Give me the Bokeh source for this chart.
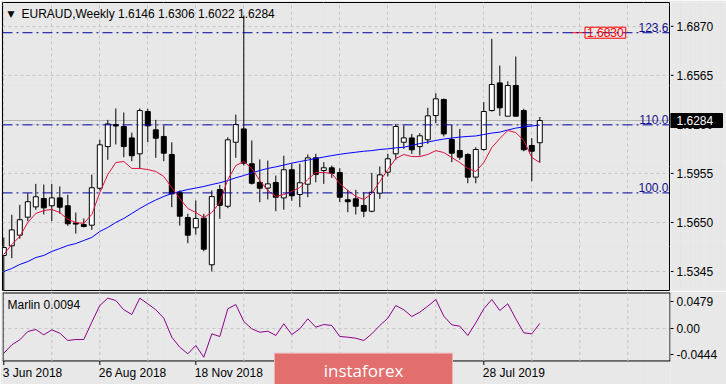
from bokeh.plotting import figure
from bokeh.models import (Range1d, FixedTicker, Grid, Span, Label, ColumnDataSource)
from bokeh.core.properties import value
from bokeh.layouts import column, row
from bokeh.embed import file_html
from bokeh.resources import INLINE

# ---------------- data ----------------
date_labels = ["3 Jun 2018", "26 Aug 2018", "18 Nov 2018", "10 Feb 2019", "5 May 2019", "28 Jul 2019"]
date_idx = [0, 12, 24, 36, 48, 60]
grid_idx = list(range(0, 84, 6))

opens = [1.5445, 1.5505, 1.5571, 1.5683, 1.5747, 1.5799, 1.5754, 1.5803, 1.5754, 1.5647,
         1.5637, 1.5633, 1.5863, 1.6122, 1.6259, 1.6247, 1.6176, 1.6077, 1.6340, 1.6226,
         1.6185, 1.6073, 1.5838, 1.5681, 1.5617, 1.5677, 1.5387, 1.5855, 1.5751, 1.6149,
         1.6232, 1.6015, 1.5899, 1.5864, 1.5899, 1.5803, 1.5978, 1.5824, 1.5888, 1.6052,
         1.5973, 1.5990, 1.5961, 1.5791, 1.5797, 1.5756, 1.5720, 1.5832, 1.5963, 1.6077,
         1.6149, 1.6176, 1.6122, 1.6164, 1.6315, 1.6415, 1.6166, 1.6097, 1.6073, 1.5932,
         1.6104, 1.6346, 1.6518, 1.6311, 1.6502, 1.6346, 1.6129, 1.6146]
highs = [1.5557, 1.5698, 1.5760, 1.5832, 1.5890, 1.5886, 1.5890, 1.5874, 1.5822, 1.5712,
         1.5675, 1.5948, 1.6164, 1.6288, 1.6359, 1.6334, 1.6209, 1.6359, 1.6357, 1.6288,
         1.6253, 1.6149, 1.5849, 1.5704, 1.5787, 1.5704, 1.5849, 1.5884, 1.6180, 1.6321,
         1.6937, 1.6160, 1.6042, 1.6035, 1.5942, 1.6065, 1.6015, 1.6015, 1.6073, 1.6077,
         1.6025, 1.6004, 1.5987, 1.5853, 1.5853, 1.5838, 1.5959, 1.5998, 1.6077, 1.6263,
         1.6253, 1.6201, 1.6205, 1.6363, 1.6454, 1.6421, 1.6257, 1.6232, 1.6081, 1.6118,
         1.6398, 1.6792, 1.6626, 1.6528, 1.6682, 1.6357, 1.6174, 1.6306]
lows = [1.5200, 1.5428, 1.5549, 1.5658, 1.5729, 1.5700, 1.5658, 1.5704, 1.5629, 1.5581,
        1.5619, 1.5604, 1.5849, 1.6040, 1.6135, 1.6056, 1.6031, 1.5984, 1.6149, 1.6052,
        1.6031, 1.5745, 1.5631, 1.5521, 1.5575, 1.5471, 1.5345, 1.5673, 1.5739, 1.6052,
        1.6004, 1.5886, 1.5776, 1.5793, 1.5720, 1.5729, 1.5785, 1.5745, 1.5807, 1.5900,
        1.5890, 1.5928, 1.5776, 1.5714, 1.5700, 1.5683, 1.5714, 1.5797, 1.5936, 1.6041,
        1.6108, 1.6077, 1.6066, 1.6139, 1.6267, 1.6185, 1.6025, 1.6040, 1.5894, 1.5894,
        1.6097, 1.6340, 1.6313, 1.6309, 1.6309, 1.6093, 1.5907, 1.6022]
closes = [1.5494, 1.5604, 1.5667, 1.5779, 1.5810, 1.5741, 1.5803, 1.5745, 1.5642, 1.5640,
          1.5625, 1.5866, 1.6133, 1.6263, 1.6250, 1.6122, 1.6065, 1.6346, 1.6251, 1.6174,
          1.6081, 1.5828, 1.5689, 1.5571, 1.5675, 1.5484, 1.5811, 1.5757, 1.6164, 1.6259,
          1.6019, 1.5894, 1.5863, 1.5890, 1.5807, 1.5978, 1.5816, 1.5897, 1.6052, 1.5948,
          1.5990, 1.5956, 1.5807, 1.5779, 1.5751, 1.5720, 1.5838, 1.5946, 1.6046, 1.6247,
          1.6176, 1.6102, 1.6189, 1.6313, 1.6419, 1.6201, 1.6081, 1.6056, 1.5932, 1.6104,
          1.6340, 1.6508, 1.6363, 1.6502, 1.6311, 1.6102, 1.6093, 1.6284]
ma_fast = [1.5451, 1.5513, 1.5563, 1.5650, 1.5706, 1.5724, 1.5731, 1.5712, 1.5669, 1.5650,
           1.5644, 1.5700, 1.5836, 1.5948, 1.6023, 1.6029, 1.5986, 1.5986, 1.5979, 1.5967,
           1.5936, 1.5867, 1.5799, 1.5737, 1.5712, 1.5681, 1.5712, 1.5774, 1.5917, 1.6004,
           1.6029, 1.5986, 1.5911, 1.5849, 1.5812, 1.5824, 1.5843, 1.5867, 1.5917, 1.5961,
           1.5961, 1.5955, 1.5892, 1.5849, 1.5812, 1.5793, 1.5830, 1.5905, 1.5979, 1.6048,
           1.6073, 1.6060, 1.6060, 1.6073, 1.6097, 1.6085, 1.6054, 1.6023, 1.5986, 1.5967,
           1.6023, 1.6116, 1.6172, 1.6222, 1.6209, 1.6160, 1.6054, 1.6023]
ma_slow = [1.5345, 1.5364, 1.5389, 1.5407, 1.5432, 1.5445, 1.5470, 1.5488, 1.5507, 1.5519,
           1.5538, 1.5557, 1.5594, 1.5619, 1.5650, 1.5675, 1.5706, 1.5737, 1.5765, 1.5790,
           1.5812, 1.5830, 1.5843, 1.5855, 1.5864, 1.5874, 1.5886, 1.5897, 1.5911, 1.5928,
           1.5942, 1.5958, 1.5973, 1.5986, 1.5996, 1.6007, 1.6019, 1.6029, 1.6038, 1.6048,
           1.6057, 1.6066, 1.6074, 1.6081, 1.6087, 1.6093, 1.6097, 1.6104, 1.6108, 1.6114,
           1.6118, 1.6129, 1.6141, 1.6150, 1.6160, 1.6169, 1.6175, 1.6181, 1.6185, 1.6188,
           1.6197, 1.6206, 1.6212, 1.6225, 1.6237, 1.6244, 1.6250, 1.6256]
marlin = [-0.0427, -0.0280, -0.0193, -0.0047, -0.0012, -0.0105, -0.0018, -0.0077, -0.0205, -0.0187,
          -0.0187, 0.0116, 0.0408, 0.0536, 0.0495, 0.0333, 0.0250, 0.0536, 0.0438, 0.0333,
          0.0186, -0.0147, -0.0322, -0.0438, -0.0292, -0.0497, -0.0088, -0.0135, 0.0350, 0.0425,
          0.0128, 0.0000, -0.0060, -0.0042, -0.0117, 0.0088, -0.0100, 0.0000, 0.0175, 0.0028,
          0.0075, 0.0058, -0.0135, -0.0147, -0.0165, -0.0205, -0.0088, 0.0058, 0.0186, 0.0408,
          0.0333, 0.0215, 0.0291, 0.0396, 0.0513, 0.0221, 0.0070, 0.0046, -0.0117, 0.0105,
          0.0350, 0.0513, 0.0320, 0.0438, 0.0175, -0.0070, -0.0088, 0.0094]

price_ticks = [1.5345, 1.5650, 1.5955, 1.6260, 1.6565, 1.6870]
price_tick_labels = ["1.5345", "1.5650", "1.5955", "1.6260", "1.6565", "1.6870"]
marlin_ticks = [-0.0444, 0.0, 0.0479]
marlin_tick_labels = ["-0.0444", "0.00", "0.0479"]
levels = [1.5834, 1.6257, 1.6830]
level_names = ["100.0", "110.0", "123.6"]
target = 1.6830
title_text = "EURAUD,Weekly  1.6146 1.6306 1.6022 1.6284"
marlin_text = "Marlin 0.0094"

# ---------------- styling ----------------
FONT = "Liberation Sans"
BG = "#e8e8e8"
GRID = "#c6c6c6"
PX = 8.0                       # pixels per weekly bar
X0, X1 = (2 - 3.3) / PX, (669 - 3.3) / PX
LOGO_L, LOGO_R = (274 - 3.3) / PX, (452 - 3.3) / PX
LOGO_FILL, LOGO_LINE = "#e26e6e", "#f0b0b0"
MPX = 0.00175                  # oscillator units per pixel
M_TOP, M_BOT = 0.0627, -0.0563  # oscillator panel border lines

n = len(closes)
idx = list(range(n))
src = ColumnDataSource(dict(
    x=idx, high=highs, low=lows,
    top=[max(o, c) for o, c in zip(opens, closes)],
    bottom=[min(o, c) for o, c in zip(opens, closes)],
    fill=["white" if c >= o else "black" for o, c in zip(opens, closes)],
))

xr = Range1d(X0, X1)
yr = Range1d(1.5227, 1.7018)

def base(**kw):
    return figure(toolbar_location=None, output_backend="svg",
                  background_fill_color=BG, border_fill_color=BG, **kw)

# ---------------- main price panel ----------------
p = base(width=670, height=291, x_range=xr, y_range=yr,
         x_axis_location=None, y_axis_location=None,
         min_border_left=2, min_border_right=1, min_border_top=2, min_border_bottom=1,
         outline_line_color="black", outline_line_width=1)

p.add_layout(Grid(dimension=1, ticker=FixedTicker(ticks=price_ticks),
                  grid_line_color=GRID, grid_line_dash="3 3"), "center")
p.add_layout(Grid(dimension=0, ticker=FixedTicker(ticks=grid_idx),
                  grid_line_color=GRID, grid_line_dash="3 3"), "center")

p.add_layout(Span(location=closes[-1], dimension="width", line_color="#b4b4b4",
                  line_width=1, level="underlay"))

p.segment(x0="x", y0="low", x1="x", y1="high", source=src, line_color="black", line_width=1)
p.vbar(x="x", top="top", bottom="bottom", width=0.62, fill_color="fill",
       line_color="black", line_width=1, source=src)

p.line(idx, ma_slow, line_color="#0000ff", line_width=1)
p.line(idx, ma_fast, line_color="#e0103c", line_width=1)

for lv, nm in zip(levels, level_names):
    p.add_layout(Span(location=lv, dimension="width", line_color="#0000a0",
                      line_dash="10 4 2 4", line_width=1))
    p.add_layout(Label(x=X1, y=lv, text=nm, text_align="right", text_baseline="bottom",
                       x_offset=-1, y_offset=1, text_font=FONT, text_font_size="12px",
                       text_color="#10108a"))

# target marker
p.segment(x0=[71.0], y0=[target], x1=[72.4], y1=[target], line_color="red", line_width=1)
p.add_layout(Label(x=72.4, y=target, x_offset=2, text=f"{target:.4f}", text_align="left",
                   text_baseline="middle", text_font=FONT, text_font_size="12px",
                   text_color="red", border_line_color="red", border_line_width=1,
                   padding=dict(left=2, right=2, top=1, bottom=1)))

# title
p.add_layout(Label(x=(7 - 3.3) / PX, y=1.6949, text="\u25BC", text_align="left",
                   text_baseline="middle", text_font="DejaVu Sans",
                   text_font_size="9px", text_color="black"))
p.add_layout(Label(x=(21 - 3.3) / PX, y=1.6949, text=title_text, text_align="left",
                   text_baseline="middle", text_font=FONT, text_font_size="12px",
                   text_color="black"))

# ---------------- right price scale (shares the price range) ----------------
a = base(width=56, height=291, x_range=Range1d(670, 726), y_range=yr,
         x_axis_location=None, y_axis_location=None,
         min_border_left=0, min_border_right=0, min_border_top=2, min_border_bottom=1,
         outline_line_color=None)
a.segment(x0=[670] * len(price_ticks), y0=price_ticks, x1=[673] * len(price_ticks),
          y1=price_ticks, line_color="black", line_width=1)
a.text(x=[676] * len(price_ticks), y=price_ticks, text=price_tick_labels,
       text_font=value(FONT), text_font_size="12px", text_color="black",
       text_align="left", text_baseline="middle")
a.rect(x=[696], y=[closes[-1]], width=52, height=14, height_units="screen",
       fill_color="black", line_color="black")
a.text(x=[676], y=[closes[-1]], text=[f"{closes[-1]:.4f}"], text_font=value(FONT),
       text_font_size="12px", text_color="white", text_align="left", text_baseline="middle")

# ---------------- Marlin oscillator panel + date scale ----------------
q = base(width=726, height=93, x_range=Range1d(X0, X1 + 1 / PX),
         y_range=Range1d(-0.0975, 0.0653),
         x_axis_location=None, y_axis_location="right",
         min_border_left=2, min_border_right=56, min_border_top=0, min_border_bottom=0,
         outline_line_color=None)

q.ygrid.ticker = FixedTicker(ticks=[0.0])
q.ygrid.grid_line_color = GRID
q.ygrid.grid_line_dash = "3 3"
q.segment(x0=grid_idx, y0=[M_BOT] * len(grid_idx), x1=grid_idx, y1=[M_TOP] * len(grid_idx),
          line_color=GRID, line_dash="3 3", line_width=1)

# panel border
q.add_layout(Span(location=M_TOP, dimension="width", line_color="black", level="underlay"))
q.add_layout(Span(location=M_BOT, dimension="width", line_color="black", level="underlay"))
q.segment(x0=[X0 + 0.5 / PX, X1 + 0.5 / PX], y0=[M_BOT, M_BOT],
          x1=[X0 + 0.5 / PX, X1 + 0.5 / PX], y1=[M_TOP, M_TOP], line_color="black")

q.line(idx, marlin, line_color="#8b008b", line_width=1)

# date ticks and labels
q.segment(x0=date_idx, y0=[M_BOT] * len(date_idx), x1=date_idx,
          y1=[M_BOT - 4 * MPX] * len(date_idx), line_color="black", line_width=1)
q.text(x=[d - 0.12 for d in date_idx], y=[-0.0765] * len(date_idx), text=date_labels,
       text_font=value(FONT), text_font_size="12px", text_color="black",
       text_align="left", text_baseline="middle")

# instaforex badge
q.quad(left=[LOGO_L], right=[LOGO_R], top=[-0.0427], bottom=[-0.1000],
       fill_color=LOGO_FILL, line_color=LOGO_LINE)
q.text(x=[(LOGO_L + LOGO_R) / 2], y=[-0.0727], text=["instaforex"], text_font=value("Open Sans"),
       text_font_size="17px", text_color="white", text_align="center",
       text_baseline="middle")

qa = q.yaxis[0]
qa.ticker = FixedTicker(ticks=marlin_ticks)
qa.major_label_overrides = {t: s for t, s in zip(marlin_ticks, marlin_tick_labels)}
qa.axis_line_color = None
qa.major_tick_line_color = "black"
qa.major_tick_out = 3
qa.major_tick_in = 0
qa.minor_tick_out = 0
qa.minor_tick_in = 0
qa.major_label_standoff = 3
qa.major_label_text_font = FONT
qa.major_label_text_font_size = "12px"
qa.major_label_text_color = "black"

q.add_layout(Label(x=(7 - 3.3) / PX, y=0.0425, text=marlin_text, text_align="left",
                   text_baseline="middle", text_font=FONT, text_font_size="12px",
                   text_color="black"))

layout = column(row(p, a, spacing=0), q, spacing=0)
open("out.html", "w").write(file_html(layout, INLINE))
